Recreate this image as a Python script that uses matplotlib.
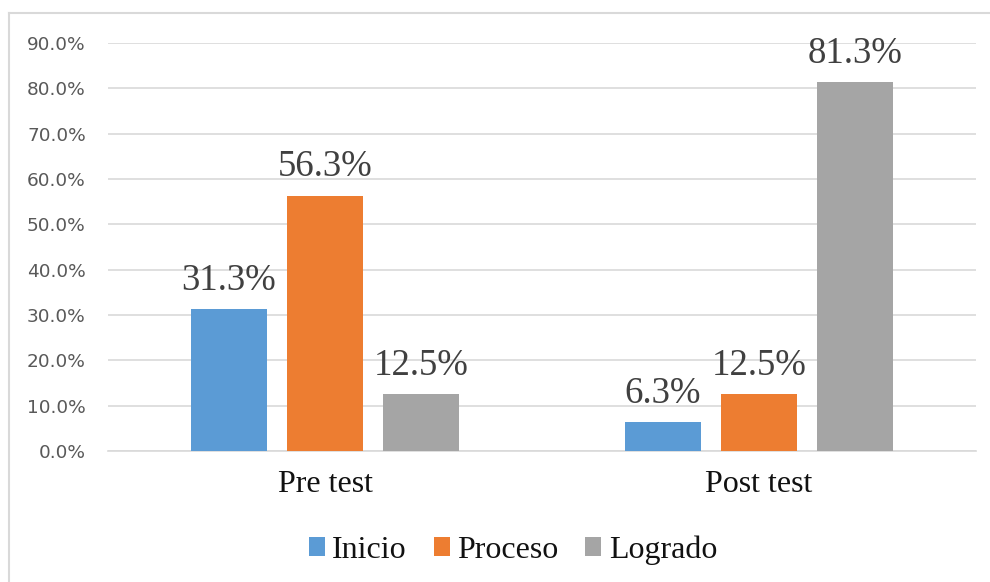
import matplotlib
matplotlib.use("Agg")
import matplotlib.pyplot as plt
from matplotlib.patches import Patch
from matplotlib.lines import Line2D
import numpy as np

categories = ["Pre test", "Post test"]
series_names = ["Inicio", "Proceso", "Logrado"]
inicio = [31.3, 6.3]
proceso = [56.3, 12.5]
logrado = [12.5, 81.3]
colors = ["#5B9BD5", "#ED7D31", "#A5A5A5"]
yticks = [0, 10, 20, 30, 40, 50, 60, 70, 80, 90]

fig = plt.figure(figsize=(9.9, 5.82), dpi=100)
ax = fig.add_axes([108/990, 1-451/582, (976-108)/990, (451-43)/582])

x = np.arange(len(categories))
width = 0.175
offsets = [-0.222, 0.0, 0.222]
serif = ["Liberation Serif", "DejaVu Serif"]
for vals, off, col, name in zip([inicio, proceso, logrado], offsets, colors, series_names):
    bars = ax.bar(x + off, vals, width, color=col, label=name, zorder=3)
    for b, v in zip(bars, vals):
        ax.annotate(f"{v:.1f}%", (b.get_x() + b.get_width()/2, v),
                    xytext=(0, 14), textcoords="offset points",
                    ha="center", va="baseline", fontsize=26.5,
                    family=serif, color="#404040", zorder=4)

ax.set_xlim(-0.5, 1.5)
ax.set_ylim(0, 90)
ax.set_yticks(yticks)
ax.set_yticklabels([f"{t:.1f}%" for t in yticks], fontsize=13.3, color="#595959",
                   family="DejaVu Sans")
ax.set_xticks(x)
ax.set_xticklabels(categories, fontsize=23, family=serif, color="#111111")
ax.tick_params(axis="both", length=0)
ax.tick_params(axis="y", pad=16)
ax.tick_params(axis="x", pad=14)
ax.grid(axis="y", color="#D9D9D9", linewidth=1.2, zorder=0)
for s in ["top", "right", "left"]:
    ax.spines[s].set_visible(False)
ax.spines["bottom"].set_color("#D9D9D9")
ax.spines["bottom"].set_linewidth(1.2)

handles = [Patch(facecolor=c, label=n) for c, n in zip(colors, series_names)]
fig.legend(handles=handles, loc="center", bbox_to_anchor=(513/990, 1-550/582),
           ncol=3, frameon=False, prop={"family": serif, "size": 23},
           handlelength=0.5, handleheight=0.5, handletextpad=0.24,
           columnspacing=0.84, labelcolor="#111111")

# outer chart border
fig.add_artist(Line2D([8.5/990, 8.5/990], [0, 1-13/582], color="#D9D9D9",
                      linewidth=1.5, transform=fig.transFigure))
fig.add_artist(Line2D([8.5/990, 1], [1-13/582, 1-13/582], color="#D9D9D9",
                      linewidth=1.5, transform=fig.transFigure))

fig.savefig("out.png", dpi=100)
